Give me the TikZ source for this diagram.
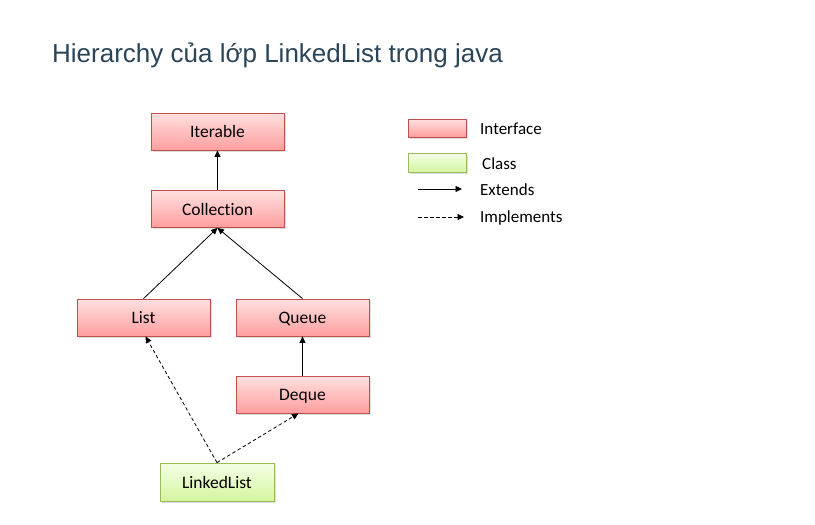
\documentclass[tikz,border=0pt]{standalone}
\usepackage{fontspec}
\setmainfont[Ligatures=NoCommon]{Carlito}
\newfontfamily\titlefont{Liberation Sans}
\usetikzlibrary{arrows.meta,shadows}
\definecolor{ifborder}{HTML}{C0504D}
\definecolor{iftop}{HTML}{FFE0E0}
\definecolor{ifbot}{HTML}{FF9E9E}
\definecolor{clborder}{HTML}{9BBB59}
\definecolor{cltop}{HTML}{F4FFE6}
\definecolor{clbot}{HTML}{D4F5A0}
\definecolor{titlecol}{HTML}{2A4558}
\tikzset{
  boxtext/.style={font=\fontsize{17.5}{20}\selectfont, text height=14pt, text depth=2pt},
  iface/.style={draw=ifborder, line width=0.8pt, top color=iftop, bottom color=ifbot,
    minimum width=133pt, minimum height=37pt, inner sep=0pt, boxtext,
    drop shadow={shadow xshift=1.5pt, shadow yshift=-1.5pt, opacity=0.25}},
  cls/.style={draw=clborder, line width=0.8pt, top color=cltop, bottom color=clbot,
    minimum width=114pt, minimum height=38pt, inner sep=0pt, boxtext,
    drop shadow={shadow xshift=1.5pt, shadow yshift=-1.5pt, opacity=0.25}},
  ext/.style={-{Triangle[length=6.5pt,width=6pt]}, line width=0.8pt},
  impl/.style={-{Triangle[length=6.5pt,width=6pt]}, line width=0.8pt, dash pattern=on 3.5pt off 2.5pt},
  legtext/.style={anchor=west, inner sep=0pt, font=\fontsize{17}{20}\selectfont}
}
\begin{document}
\begin{tikzpicture}[x=1pt,y=-1pt]
\useasboundingbox[fill=white] (0,0) rectangle (815,525);
\node[anchor=base west, inner sep=0pt, text=titlecol, font=\titlefont\fontsize{26}{30}\selectfont] (title) at (52,62) {Hierarchy của lớp LinkedList trong java};

\node[iface] (iter) at (217.5,131.5) {Iterable};
\node[iface] (coll) at (217.5,209) {Collection};
\node[iface] (list) at (143.5,317.5) {List};
\node[iface] (queue) at (302.5,317.5) {Queue};
\node[iface] (deque) at (302.5,394.5) {Deque};
\node[cls] (ll) at (217,482) {LinkedList};

\draw[ext] (coll.north) -- (iter.south);
\draw[ext] (list.north) -- (coll.south);
\draw[ext] (queue.north) -- (coll.south);
\draw[ext] (deque.north) -- (queue.south);
\draw[impl] (ll.north) -- ([xshift=2pt]list.south);
\draw[impl] (ll.north) -- ([xshift=-4pt]deque.south);

% legend
\node[iface, minimum width=58pt, minimum height=18pt, drop shadow={opacity=0}] (legI) at (437,128) {};
\node[cls, minimum width=58pt, minimum height=19pt, drop shadow={opacity=0}] (legC) at (437,162.5) {};
\coordinate (e1) at (418,189);
\coordinate (e2) at (462,189);
\coordinate (i1) at (418,217);
\coordinate (i2) at (464,217);
\draw[ext] (e1) -- (e2);
\draw[impl] (i1) -- (i2);
\node[legtext] (tI) at (480,129) {Interface};
\node[legtext] (tC) at (482,164) {Class};
\node[legtext] (tE) at (480,190) {Extends};
\node[legtext] (tM) at (480,218) {Implements};
\end{tikzpicture}
\end{document}
